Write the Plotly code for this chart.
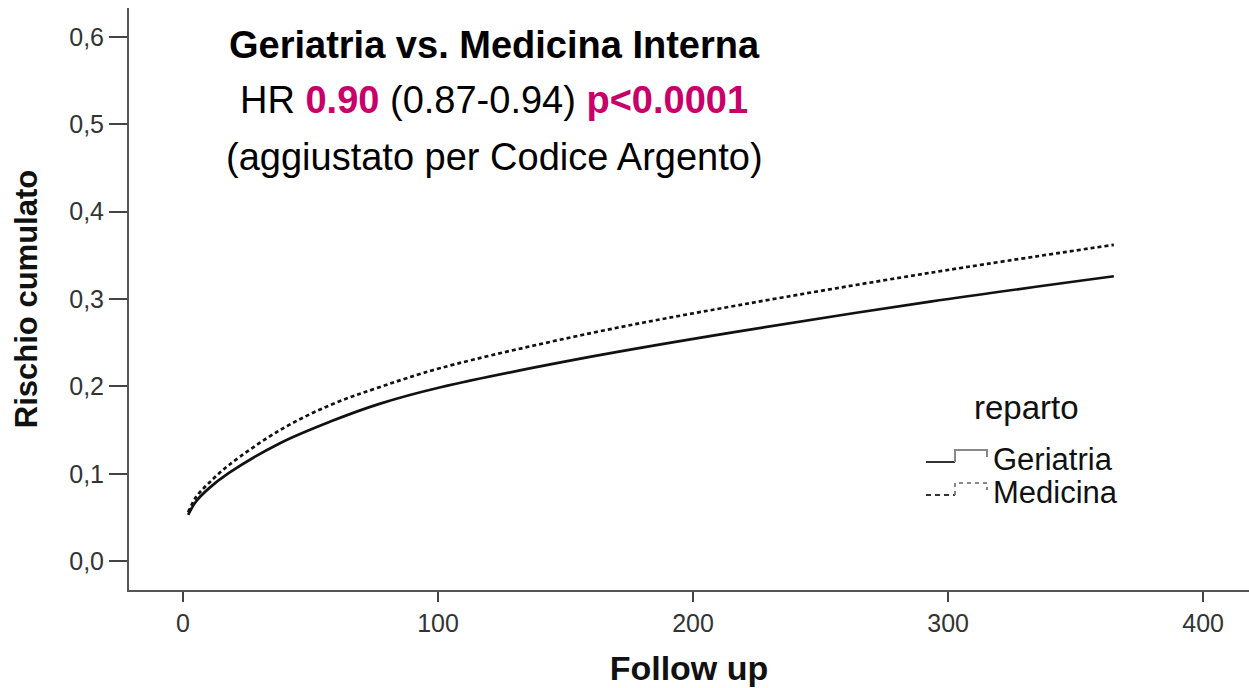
import plotly.graph_objects as go

# follow up days and cumulative risk
days = [2, 5, 10, 18, 38, 58, 77, 101, 160, 218, 293, 365]
geriatria = [0.053, 0.068, 0.083, 0.101, 0.135, 0.160, 0.180, 0.199, 0.234, 0.263, 0.297, 0.326]
medicina = [0.056, 0.073, 0.089, 0.110, 0.150, 0.179, 0.199, 0.221, 0.261, 0.293, 0.330, 0.362]

x_ticks = [0, 100, 200, 300, 400]
y_ticks = [0.0, 0.1, 0.2, 0.3, 0.4, 0.5, 0.6]

magenta = '#C8006A'

W, H = 1249, 688
L, R, T, B = 129, 0, 8, 98


def px_x(v):
    return (v - L) / (W - L - R)


def px_y(v):
    return 1 - (v - T) / (H - T - B)


fig = go.Figure()

fig.add_trace(go.Scatter(
    x=days, y=geriatria,
    mode='lines', line=dict(color='#111111', width=2.7, shape='spline'),
    name='Geriatria', showlegend=False
))

fig.add_trace(go.Scatter(
    x=days, y=medicina,
    mode='lines', line=dict(color='#111111', width=2.7, dash='4px,3px', shape='spline'),
    name='Medicina', showlegend=False
))

# title block
title_lines = [
    (45, '<b>Geriatria vs. Medicina Interna</b>'),
    (100, f'HR <b><span style="color:{magenta}">0.90</span></b> (0.87-0.94) '
          f'<b><span style="color:{magenta}">p&lt;0.0001</span></b>'),
    (157, '(aggiustato per Codice Argento)'),
]
for ypix, txt in title_lines:
    fig.add_annotation(x=px_x(494), y=px_y(ypix), xref='paper', yref='paper', showarrow=False,
                       xanchor='center', yanchor='middle', text=txt,
                       font=dict(size=38, color='black'))

fig.update_layout(
    width=W, height=H,
    margin=dict(l=L, r=R, t=T, b=B),
    plot_bgcolor='white', paper_bgcolor='white',
    font=dict(family='Liberation Sans, Arial, sans-serif', color='#222222'),
    separators=',.',
    showlegend=False,
    xaxis=dict(
        range=[-21.2, 418], tickvals=x_ticks, automargin=False,
        showline=True, linecolor='#555555', linewidth=2,
        ticks='outside', ticklen=10, tickwidth=2, tickcolor='#444444',
        showgrid=False, zeroline=False,
        tickfont=dict(size=25, color='#333333'),
        title=dict(text='<b>Follow up</b>', font=dict(size=34, color='#111111'), standoff=20),
    ),
    yaxis=dict(
        range=[-0.033, 0.633], tickvals=y_ticks, tickformat='.1f', automargin=False,
        showline=True, linecolor='#555555', linewidth=2,
        ticks='outside', ticklen=18, tickwidth=2, tickcolor='#444444',
        showgrid=False, zeroline=False,
        tickfont=dict(size=25, color='#333333'),
        title=dict(text='<b>Rischio cumulato</b>', font=dict(size=31, color='#111111'), standoff=22),
    ),
)

# legend drawn by hand: title, entries and step-shaped symbols
fig.add_annotation(x=px_x(1026), y=px_y(407), xref='paper', yref='paper', showarrow=False,
                   xanchor='center', yanchor='middle',
                   text='reparto', font=dict(size=33, color='#111111'))
for label, ypix, dashed in [('Geriatria', 459, False), ('Medicina', 492, True)]:
    fig.add_annotation(x=px_x(991), y=px_y(ypix), xref='paper', yref='paper', showarrow=False,
                       xanchor='left', yanchor='middle', text=label,
                       font=dict(size=31, color='#111111'))
    fig.add_shape(type='line', xref='paper', yref='paper',
                  x0=px_x(926), x1=px_x(955), y0=px_y(ypix + 3), y1=px_y(ypix + 3),
                  line=dict(color='#333333', width=2, dash='5px,4px' if dashed else 'solid'))
    fig.add_shape(type='path', xref='paper', yref='paper',
                  path=f'M {px_x(955)} {px_y(ypix + 3)} L {px_x(955)} {px_y(ypix - 9)} '
                       f'L {px_x(987)} {px_y(ypix - 9)} L {px_x(987)} {px_y(ypix - 2)}',
                  line=dict(color='#888888', width=2, dash='4px,4px' if dashed else 'solid'))

# drop the default page margin so the figure sits at the window corner
fig.write_html("out.html", config={'displayModeBar': False},
               post_script="document.body.style.margin='0';")
